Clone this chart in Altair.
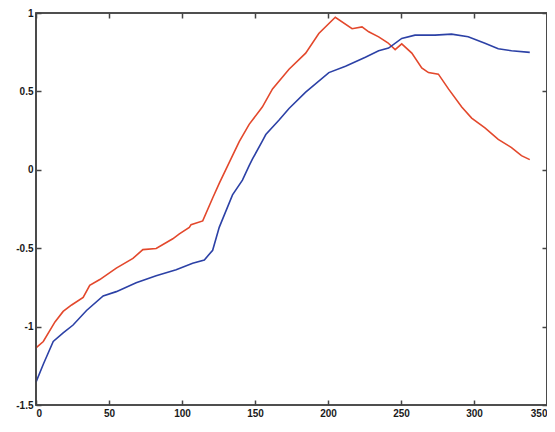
import altair as alt
import pandas as pd

red_x = [0, 5, 13, 18.6, 24.4, 32.3, 36.8, 43.7, 55, 66.4, 73.2, 82.3, 93.7, 98.2, 105, 106.2,
         114.2, 121, 125.5, 134.6, 139.2, 146, 155, 162, 173.3, 184.7, 193.7, 205, 216.5, 223.3,
         227.9, 234.7, 241, 246, 250.5, 257.4, 264.2, 268.8, 275.6, 282.5, 291.6, 298.4, 307.5,
         316.6, 325.7, 332.5, 338.2]
red_y = [-1.136, -1.095, -0.97, -0.903, -0.862, -0.814, -0.737, -0.70, -0.627, -0.565, -0.509,
         -0.502, -0.44, -0.409, -0.367, -0.35, -0.326, -0.18, -0.087, 0.09, 0.18, 0.29, 0.40,
         0.516, 0.641, 0.744, 0.869, 0.973, 0.90, 0.911, 0.88, 0.848, 0.81, 0.766, 0.803, 0.744,
         0.65, 0.62, 0.61, 0.516, 0.40, 0.33, 0.267, 0.194, 0.142, 0.09, 0.065]

blue_x = [0, 5, 11.8, 18.6, 25.4, 34.6, 46, 55, 68.6, 82.3, 96, 107.3, 115.3, 121, 125.5,
          134.6, 141.4, 146, 148.3, 155, 157.4, 166.5, 173.3, 184.7, 200.6, 212, 225.6, 234.7,
          241.5, 250.5, 259.6, 273.3, 284.6, 296, 307.5, 316.6, 325.7, 338.2]
blue_y = [-1.354, -1.24, -1.095, -1.04, -0.99, -0.897, -0.804, -0.777, -0.72, -0.675, -0.637,
          -0.596, -0.575, -0.513, -0.367, -0.16, -0.066, 0.027, 0.069, 0.183, 0.225, 0.318,
          0.391, 0.495, 0.62, 0.661, 0.718, 0.759, 0.776, 0.838, 0.859, 0.859, 0.865, 0.848,
          0.807, 0.772, 0.759, 0.749]

x_ticks = [0, 50, 100, 150, 200, 250, 300, 350]
y_ticks = [-1.5, -1, -0.5, 0, 0.5, 1]

W, H = 511, 392

red_df = pd.DataFrame({"x": red_x, "y": red_y})
blue_df = pd.DataFrame({"x": blue_x, "y": blue_y})

xs = alt.Scale(domain=[0, 350], nice=False, zero=False)
ys = alt.Scale(domain=[-1.5, 1], nice=False, zero=False)

tick_axis = dict(grid=False, domain=False, tickSize=5, offset=-5, tickColor="#444444",
                 tickWidth=1.5, labelFont="Liberation Sans", labelFontWeight="bold",
                 labelFontSize=10, labelColor="#1a1a1a", title=None)

red = alt.Chart(red_df).mark_line(color="#e3482c", strokeWidth=1.6).encode(
    x=alt.X("x:Q", scale=xs, axis=alt.Axis(orient="bottom", values=x_ticks, labelPadding=3,
                                           **tick_axis)),
    y=alt.Y("y:Q", scale=ys, axis=alt.Axis(orient="left", values=y_ticks, labelPadding=3,
                                           labelExpr="toString(datum.value)", **tick_axis)),
    order=alt.Order("x:Q"),
)

blue = alt.Chart(blue_df).mark_line(color="#2c41a6", strokeWidth=1.6).encode(
    x=alt.X("x:Q", scale=xs, axis=alt.Axis(orient="top", values=x_ticks, labels=False,
                                           **tick_axis)),
    y=alt.Y("y:Q", scale=ys, axis=alt.Axis(orient="right", values=y_ticks, labels=False,
                                           **tick_axis)),
    order=alt.Order("x:Q"),
)

frame = alt.Chart(pd.DataFrame({"k": [0]})).mark_rect(
    fill="transparent", stroke="#444444", strokeWidth=1.6
).encode(x=alt.value(0), x2=alt.value(W), y=alt.value(0), y2=alt.value(H))

chart = alt.layer(red, blue, frame).resolve_axis(
    x="independent", y="independent"
).properties(
    width=W,
    height=H,
    padding={"left": 28, "top": 5, "right": 0, "bottom": 15},
    autosize=alt.AutoSizeParams(type="none"),
    background="white",
).configure_view(stroke="#444444", strokeWidth=1.6)

chart.save("out.html", embed_options={"renderer": "svg", "actions": False})
